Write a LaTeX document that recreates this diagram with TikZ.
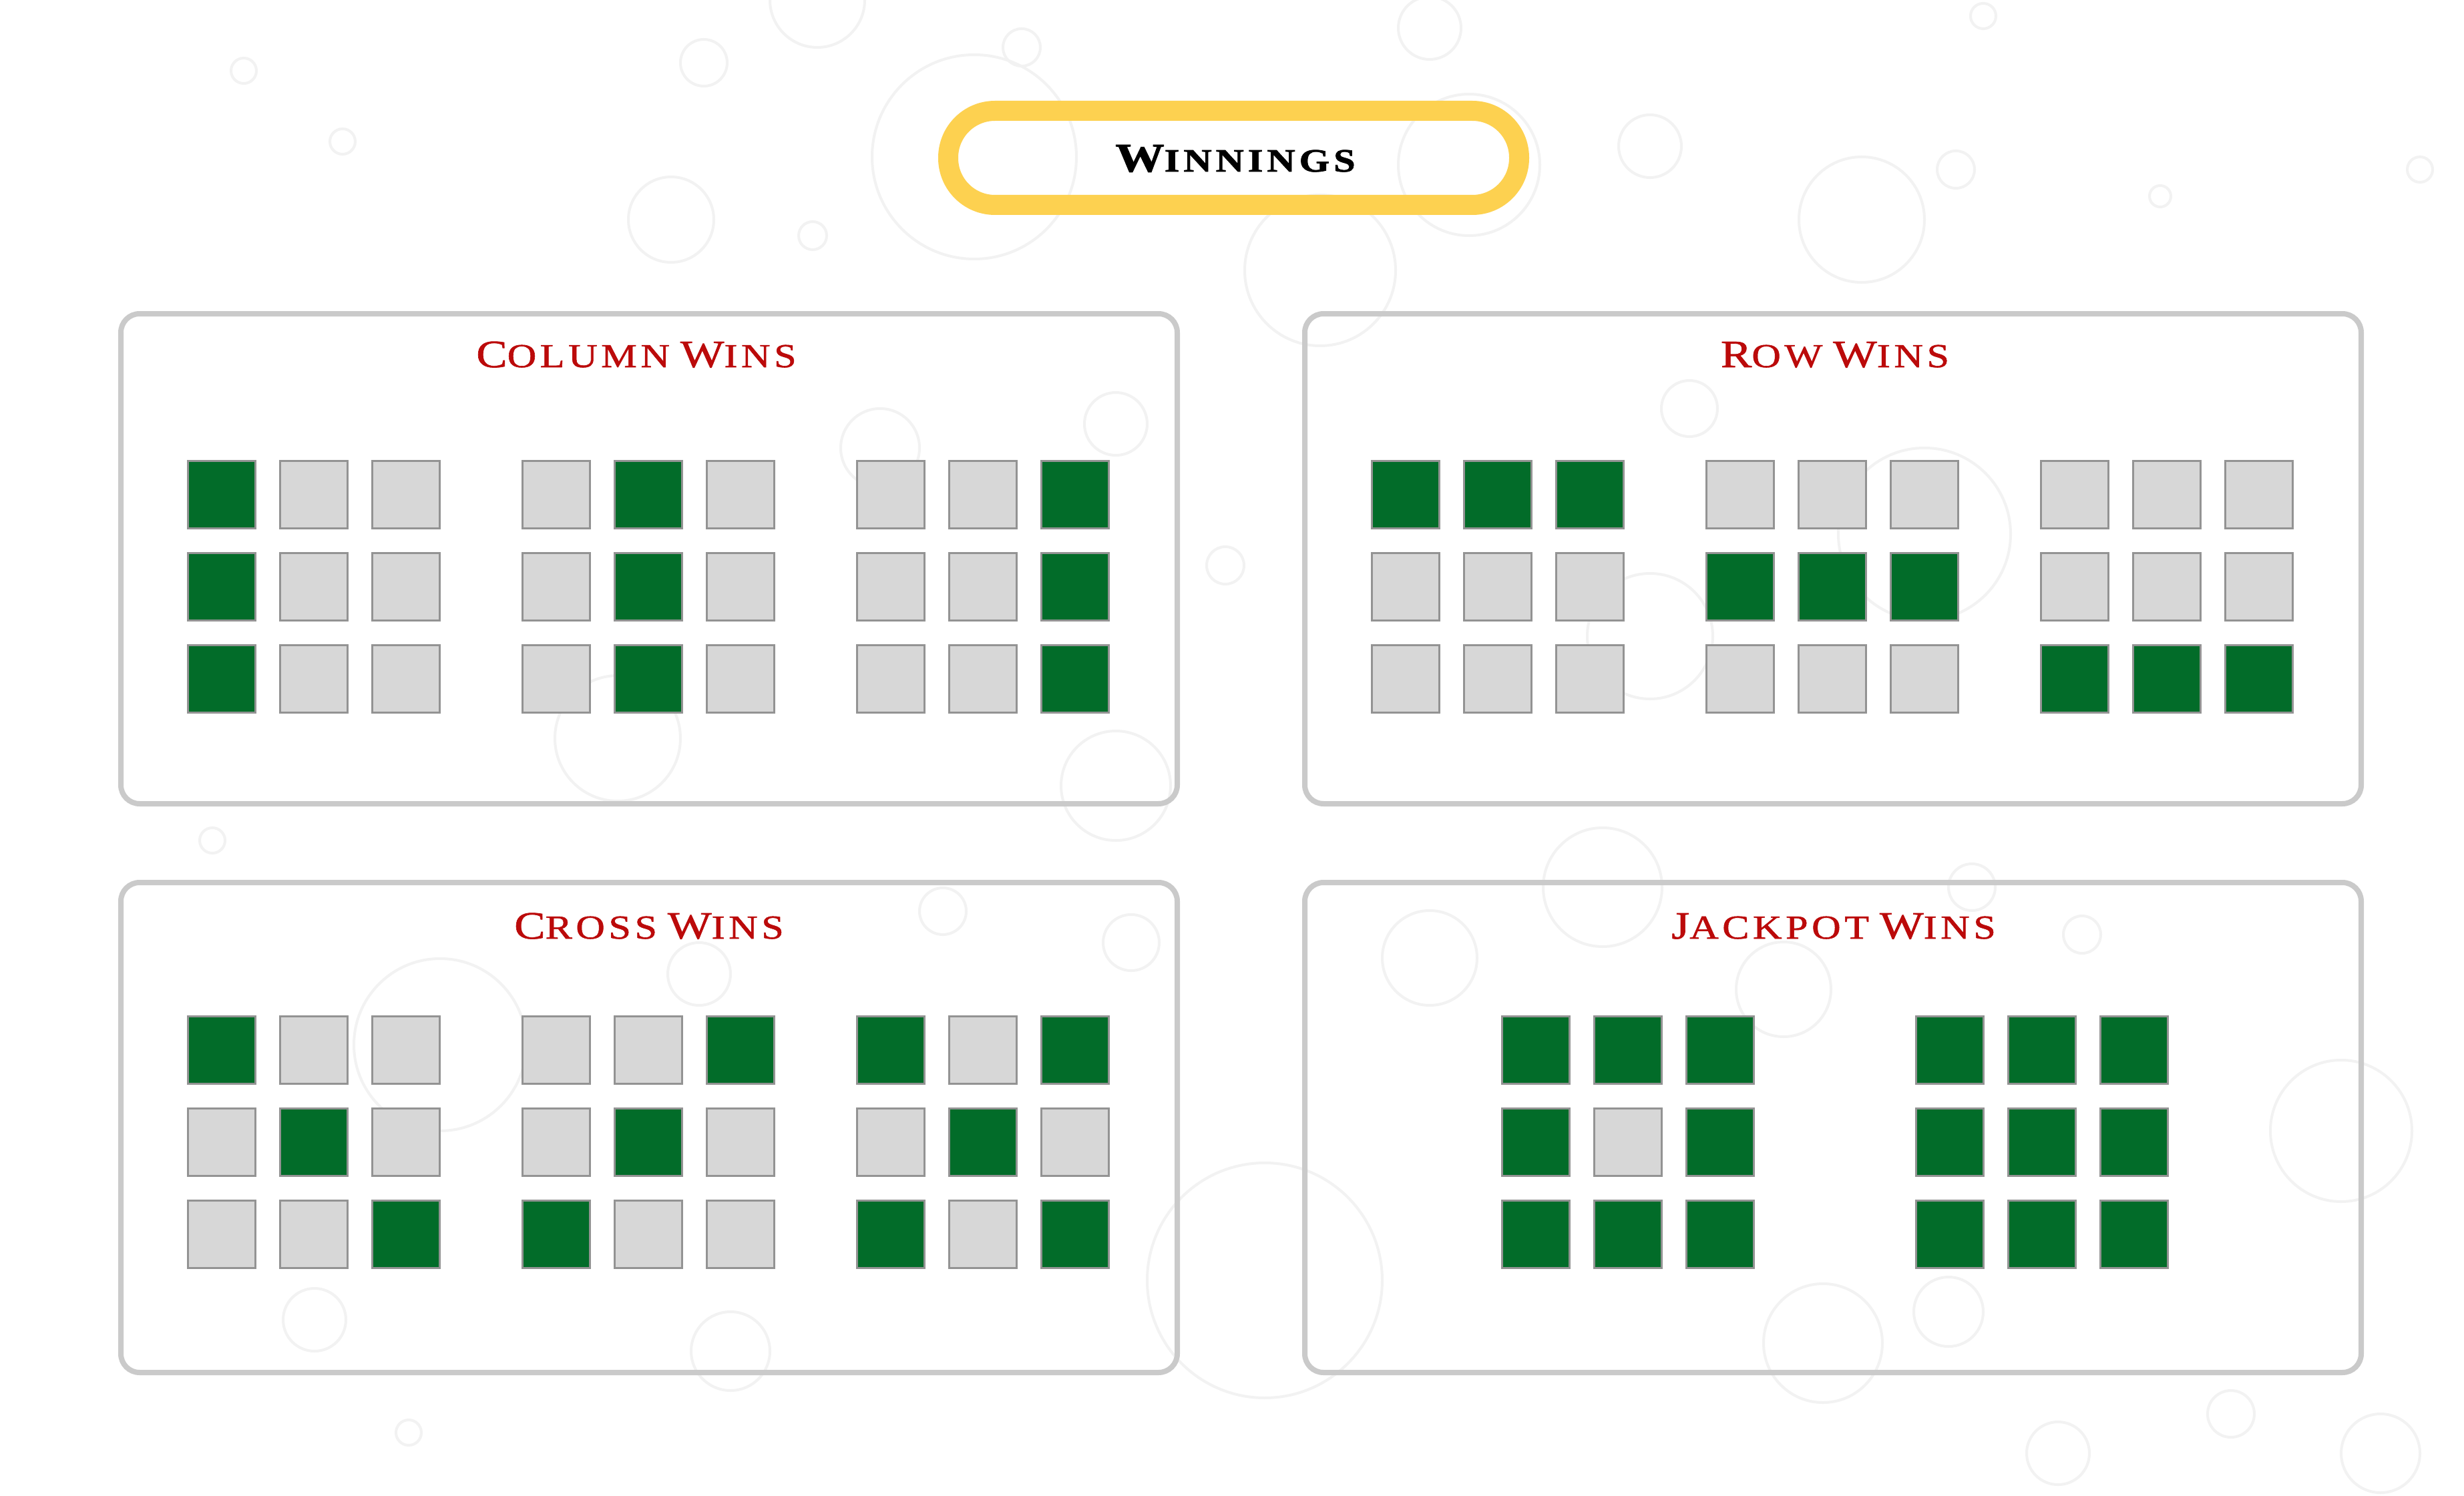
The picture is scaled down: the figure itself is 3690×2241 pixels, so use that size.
\documentclass[tikz,border=0pt]{standalone}
\usepackage{fontspec}
\usepackage{xcolor}
\newfontfamily\copper[FakeStretch=1.2, LetterSpace=11, FakeBold=1.2]{Liberation Serif}
\newfontfamily\copperbold[FakeStretch=1.2, LetterSpace=12, FakeBold=1.5]{Liberation Serif Bold}
\definecolor{wingreen}{HTML}{026C29}
\definecolor{cellgray}{HTML}{D7D7D7}
\definecolor{cellline}{HTML}{939393}
\definecolor{panelline}{HTML}{CACACA}
\definecolor{pillyellow}{HTML}{FDD150}
\definecolor{headred}{HTML}{BB0A0A}
\newcommand{\hdword}[2]{{\fontsize{16.5}{18}\selectfont #1}{\fontsize{14.3}{16}\selectfont #2}}
\newcommand{\ttlword}[2]{{\fontsize{17.4}{19}\selectfont #1}{\fontsize{13.9}{16}\selectfont #2}}
\newcommand{\wgap}{\hspace{0.45em}}

\begin{document}
\begin{tikzpicture}[
    x=0.1mm, y=-0.1mm,
    bubble/.style={draw=black!5, line width=0.4mm},
    panel/.style={rectangle, draw=panelline, line width=0.8mm, rounded corners=2.8mm, minimum width=158.2mm, minimum height=73.4mm},
    heading/.style={anchor=base, text=headred, font=\copper, inner sep=0pt},
    cell/.style={rectangle, draw=cellline, line width=0.3mm, minimum size=10.1mm, inner sep=0pt},
    cell0/.style={cell, fill=cellgray},
    cell1/.style={cell, fill=wingreen}
]
\useasboundingbox[fill=white] (0,0) rectangle (3690,2241);

% Background bubbles
\foreach \bx/\by/\br in {1459/235/153, 1977/405/113, 2788/329/94, 2141/42/47, 2471/219/47,
    1054/94/35, 365/106/19, 513/212/19, 1005/329/64, 1217/353/21, 2200/247/106, 2929/254/28,
    3624/254/19, 3235/294/16, 2970/24/19, 1224/0/71, 1530/71/28, 925/1106/94, 1671/1177/82,
    1318/671/59, 1671/635/47, 1835/847/28, 2400/1329/89, 2471/953/94, 2530/612/42,
    2141/1435/71, 2671/1482/71, 2953/1329/35, 3118/1400/28, 3506/1694/106, 1894/1918/176,
    659/1565/129, 471/1977/47, 318/1259/19, 1412/1365/35, 1694/1412/42, 2730/2012/89,
    2918/1965/52, 3341/2118/35, 3565/2177/59, 3082/2177/47, 612/2146/19, 1094/2024/59,
    1047/1459/47, 2882/800/129}
  \draw[bubble] (\bx,\by) circle[radius=\br];

% Title pill
\draw[pillyellow, line width=3mm, rounded corners=7mm] (1420,166) rectangle (2275,307);
\node[anchor=base, font=\copperbold, inner sep=0pt] (wintitle) at (1850,257) {\ttlword{W}{INNINGS}};

% Panels
\node[panel] (colpanel) at (972,837) {};
\node[panel] (rowpanel) at (2745,837) {};
\node[panel] (crosspanel) at (972,1689) {};
\node[panel] (jackpanel) at (2745,1689) {};

% Panel headings
\node[heading] (colhead) at (953,550) {\hdword{C}{OLUMN}\wgap\hdword{W}{INS}};
\node[heading] (rowhead) at (2748,550) {\hdword{R}{OW}\wgap\hdword{W}{INS}};
\node[heading] (crosshead) at (972,1406) {\hdword{C}{ROSS}\wgap\hdword{W}{INS}};
\node[heading] (jackhead) at (2746,1406) {\hdword{J}{ACKPOT}\wgap\hdword{W}{INS}};

% Grids: left/top of first square, then nine cells (1 = win)
\foreach \gx/\gy/\pat [count=\g] in {
    280/689/{1,0,0,1,0,0,1,0,0}, 781/689/{0,1,0,0,1,0,0,1,0}, 1282/689/{0,0,1,0,0,1,0,0,1},
    2053/689/{1,1,1,0,0,0,0,0,0}, 2554/689/{0,0,0,1,1,1,0,0,0}, 3055/689/{0,0,0,0,0,0,1,1,1},
    280/1521/{1,0,0,0,1,0,0,0,1}, 781/1521/{0,0,1,0,1,0,1,0,0}, 1282/1521/{1,0,1,0,1,0,1,0,1},
    2248/1521/{1,1,1,1,0,1,1,1,1}, 2868/1521/{1,1,1,1,1,1,1,1,1}}
  \foreach \v [count=\c from 0] in \pat {
    \pgfmathtruncatemacro\col{mod(\c,3)}
    \pgfmathtruncatemacro\row{div(\c,3)}
    \node[cell\v] (sq\g-\c) at (\gx+52+\col*138, \gy+52+\row*138) {};
  }

\end{tikzpicture}
\end{document}
